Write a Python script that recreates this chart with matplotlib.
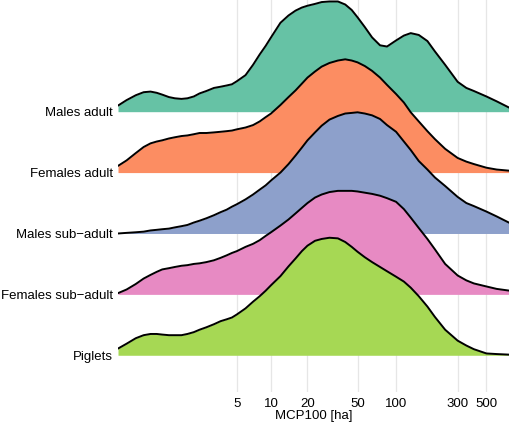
import numpy as np
import matplotlib
matplotlib.use('Agg')
import matplotlib.pyplot as plt

plt.rcParams['font.family'] = ['Liberation Sans', 'DejaVu Sans']

# MCP100 values (ha) where the ridge heights were read
x_ha = [-0.27, -0.15, 0, 0.15, 0.3, 0.45, 0.6, 0.8, 1, 1.25, 1.5, 1.8, 2.1, 2.5, 3, 3.5,
        4, 4.5, 5, 6, 7, 8, 9, 10, 12, 14, 16, 18, 20, 23, 26, 30, 35, 40, 45, 50,
        57, 65, 75, 85, 100, 115, 130, 150, 175, 200, 240, 300, 350, 400, 500, 600, 760]

# ridge heights (in units of the row spacing)
males_adult = [0.10, 0.19, 0.27, 0.32, 0.33, 0.31, 0.28, 0.24, 0.22, 0.21,
               0.22, 0.25, 0.30, 0.34, 0.39, 0.41, 0.43, 0.45, 0.50, 0.60,
               0.77, 0.94, 1.08, 1.22, 1.46, 1.58, 1.66, 1.71, 1.74, 1.77,
               1.80, 1.81, 1.81, 1.76, 1.67, 1.55, 1.39, 1.22, 1.09, 1.07,
               1.17, 1.25, 1.29, 1.26, 1.16, 0.99, 0.77, 0.49, 0.39, 0.34,
               0.25, 0.17, 0.06]
females_adult = [0.11, 0.20, 0.32, 0.42, 0.48, 0.51, 0.53, 0.56, 0.58, 0.60,
                 0.61, 0.63, 0.65, 0.65, 0.66, 0.67, 0.68, 0.69, 0.71, 0.74,
                 0.78, 0.84, 0.91, 0.97, 1.11, 1.24, 1.35, 1.46, 1.56, 1.66,
                 1.74, 1.80, 1.84, 1.86, 1.84, 1.81, 1.75, 1.67, 1.56, 1.44,
                 1.29, 1.15, 0.99, 0.84, 0.68, 0.55, 0.39, 0.24, 0.18, 0.14,
                 0.08, 0.05, 0.03]
males_subadult = [0.00, 0.01, 0.02, 0.03, 0.05, 0.06, 0.07, 0.08, 0.10, 0.12,
                  0.14, 0.18, 0.21, 0.25, 0.30, 0.35, 0.39, 0.44, 0.48, 0.56,
                  0.64, 0.72, 0.79, 0.87, 1.00, 1.14, 1.28, 1.41, 1.53, 1.66,
                  1.77, 1.87, 1.93, 1.97, 1.98, 1.99, 1.97, 1.94, 1.88, 1.78,
                  1.67, 1.51, 1.37, 1.19, 1.05, 0.92, 0.78, 0.60, 0.50, 0.45,
                  0.36, 0.28, 0.17]
females_subadult = [0.02, 0.08, 0.17, 0.26, 0.32, 0.37, 0.41, 0.43, 0.45, 0.47,
                    0.48, 0.50, 0.51, 0.53, 0.56, 0.60, 0.64, 0.68, 0.71, 0.78,
                    0.83, 0.89, 0.96, 1.02, 1.13, 1.23, 1.33, 1.42, 1.50, 1.59,
                    1.64, 1.68, 1.70, 1.70, 1.70, 1.69, 1.67, 1.65, 1.62, 1.58,
                    1.52, 1.40, 1.26, 1.09, 0.91, 0.74, 0.50, 0.31, 0.23, 0.18,
                    0.13, 0.09, 0.06]
piglets = [0.11, 0.19, 0.28, 0.33, 0.35, 0.35, 0.34, 0.33, 0.33, 0.33,
           0.35, 0.38, 0.42, 0.46, 0.51, 0.56, 0.59, 0.62, 0.67, 0.77,
           0.88, 0.97, 1.06, 1.15, 1.30, 1.46, 1.59, 1.71, 1.80, 1.88,
           1.91, 1.93, 1.92, 1.86, 1.78, 1.70, 1.61, 1.53, 1.45, 1.38,
           1.29, 1.21, 1.11, 0.97, 0.80, 0.63, 0.42, 0.24, 0.16, 0.10,
           0.03, 0.02, 0.01]

groups = ['Males adult', 'Females adult', 'Males sub\u2212adult', 'Females sub\u2212adult', 'Piglets']
ridges = [males_adult, females_adult, males_subadult, females_subadult, piglets]
colors = ['#66C2A5', '#FC8D62', '#8DA0CB', '#E78AC3', '#A6D854']
xticks = [5, 10, 20, 50, 100, 300, 500]

fig = plt.figure(figsize=(5.1, 4.24), dpi=100)
ax = fig.add_axes([118 / 510, 32 / 424, 392 / 510, 392 / 424])
ax.set_xscale('function', functions=(lambda x: np.log10(x + 1), lambda u: 10 ** u - 1))

x = np.array(x_ha)
n = len(groups)
for i, (name, dens, col) in enumerate(zip(groups, ridges, colors)):
    base = n - 1 - i
    top = base + np.array(dens)
    ax.fill_between(x, base, top, color=col, lw=0, zorder=2 + 2 * i)
    ax.plot(x, top, color='black', lw=1.4, solid_joinstyle='round',
            solid_capstyle='round', zorder=3 + 2 * i)

ax.set_xlim(-0.27, 760)
ax.set_ylim(-0.603, 5.834)
ax.set_xticks(xticks)
ax.set_xticklabels([str(t) for t in xticks])
ax.minorticks_off()
ax.set_yticks([n - 1 - i for i in range(n)])
ax.set_yticklabels(groups)
ax.grid(axis='x', color='#E6E6E6', lw=0.9)
ax.grid(axis='y', visible=False)
ax.set_axisbelow(True)
for s in ax.spines.values():
    s.set_visible(False)
ax.tick_params(axis='x', length=0, pad=4.0, labelsize=9.5, labelcolor='black')
ax.tick_params(axis='y', length=0, pad=3.6, labelsize=9.5, labelcolor='black')
ax.set_xlabel('MCP100 [ha]', fontsize=9.5, labelpad=0.5)

fig.savefig('out.png', dpi=100)
